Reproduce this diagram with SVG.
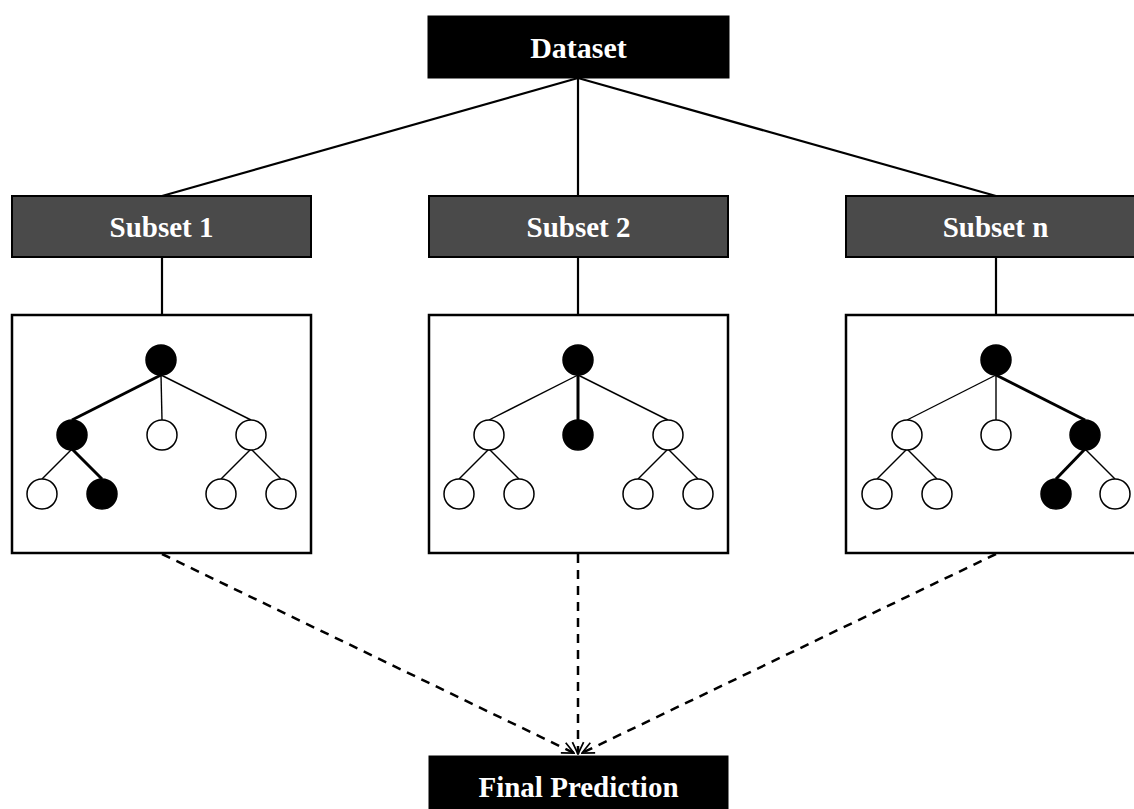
<svg xmlns="http://www.w3.org/2000/svg" width="1134" height="809" viewBox="0 0 1134 809">
<defs>
<style>
.lbl{font-family:"Liberation Serif","Times New Roman",serif;font-weight:bold;fill:#fff;text-anchor:middle}
.dark{fill:#000;stroke:#000;stroke-width:1}
.sub{fill:#4a4a4a;stroke:#000;stroke-width:2}
.tbox{fill:#fff;stroke:#000;stroke-width:2.5}
.con{stroke:#000;stroke-width:2.2;fill:none}
.dash{stroke:#000;stroke-width:2.5;fill:none;stroke-dasharray:9 7}
.e{stroke:#000;stroke-width:1.4;fill:none}
.eb{stroke:#000;stroke-width:3;fill:none}
.o{fill:#fff;stroke:#000;stroke-width:1.5}
.f{fill:#000;stroke:#000;stroke-width:1.5}
</style>
<marker id="arr" viewBox="0 0 10 10" refX="9" refY="5" markerWidth="7" markerHeight="7" orient="auto" markerUnits="userSpaceOnUse">
<path d="M0,0 L10,5 L0,10" fill="none" stroke="#000" stroke-width="2"/>
</marker>
<marker id="arr2" viewBox="0 0 20 20" refX="18" refY="10" markerWidth="14" markerHeight="14" orient="auto" markerUnits="userSpaceOnUse">
<path d="M1,2 L18,10 L1,18" fill="none" stroke="#000" stroke-width="2.5"/>
</marker>
</defs>
<rect width="1134" height="809" fill="#fff"/>

<g id="connectors">
<line class="con" x1="578" y1="78" x2="162" y2="196"/>
<line class="con" x1="578" y1="78" x2="578" y2="196"/>
<line class="con" x1="578" y1="78" x2="996" y2="196"/>
<line class="con" x1="162" y1="257" x2="162" y2="315"/>
<line class="con" x1="578" y1="257" x2="578" y2="315"/>
<line class="con" x1="996" y1="257" x2="996" y2="315"/>
<line class="dash" x1="162" y1="554" x2="574" y2="753" marker-end="url(#arr2)"/>
<line class="dash" x1="578" y1="554" x2="578" y2="754" marker-end="url(#arr2)"/>
<line class="dash" x1="996" y1="554" x2="582" y2="753" marker-end="url(#arr2)"/>
</g>

<g id="dataset">
<rect class="dark" x="428" y="16" width="301" height="62"/>
<text class="lbl" x="578.5" y="58" font-size="30">Dataset</text>
</g>

<g id="subset1">
<rect class="sub" x="12" y="196" width="299" height="61"/>
<text class="lbl" x="161.5" y="237" font-size="29">Subset 1</text>
</g>
<g id="subset2">
<rect class="sub" x="429" y="196" width="299" height="61"/>
<text class="lbl" x="578.5" y="237" font-size="29">Subset 2</text>
</g>
<g id="subsetn">
<rect class="sub" x="846" y="196" width="299" height="61"/>
<text class="lbl" x="995.5" y="237" font-size="29">Subset n</text>
</g>

<g id="tree1">
<rect class="tbox" x="12" y="315" width="299" height="238"/>
<line class="eb" x1="161" y1="375" x2="72" y2="420"/>
<line class="e" x1="161" y1="375" x2="162" y2="420"/>
<line class="e" x1="161" y1="375" x2="251" y2="420"/>
<line class="e" x1="72" y1="449" x2="42" y2="479"/>
<line class="eb" x1="72" y1="449" x2="102" y2="479"/>
<line class="e" x1="251" y1="449" x2="221" y2="479"/>
<line class="e" x1="251" y1="449" x2="281" y2="479"/>
<circle class="f" cx="161" cy="360" r="15"/>
<circle class="f" cx="72" cy="435" r="15"/>
<circle class="o" cx="162" cy="435" r="15"/>
<circle class="o" cx="251" cy="435" r="15"/>
<circle class="o" cx="42" cy="494" r="15"/>
<circle class="f" cx="102" cy="494" r="15"/>
<circle class="o" cx="221" cy="494" r="15"/>
<circle class="o" cx="281" cy="494" r="15"/>
</g>

<g id="tree2">
<rect class="tbox" x="429" y="315" width="299" height="238"/>
<line class="e" x1="578" y1="375" x2="489" y2="420"/>
<line class="eb" x1="578" y1="375" x2="578" y2="420"/>
<line class="e" x1="578" y1="375" x2="668" y2="420"/>
<line class="e" x1="489" y1="449" x2="459" y2="479"/>
<line class="e" x1="489" y1="449" x2="519" y2="479"/>
<line class="e" x1="668" y1="449" x2="638" y2="479"/>
<line class="e" x1="668" y1="449" x2="698" y2="479"/>
<circle class="f" cx="578" cy="360" r="15"/>
<circle class="o" cx="489" cy="435" r="15"/>
<circle class="f" cx="578" cy="435" r="15"/>
<circle class="o" cx="668" cy="435" r="15"/>
<circle class="o" cx="459" cy="494" r="15"/>
<circle class="o" cx="519" cy="494" r="15"/>
<circle class="o" cx="638" cy="494" r="15"/>
<circle class="o" cx="698" cy="494" r="15"/>
</g>

<g id="tree3">
<rect class="tbox" x="846" y="315" width="299" height="238"/>
<line class="e" x1="996" y1="375" x2="907" y2="420"/>
<line class="e" x1="996" y1="375" x2="996" y2="420"/>
<line class="eb" x1="996" y1="375" x2="1085" y2="420"/>
<line class="e" x1="907" y1="449" x2="877" y2="479"/>
<line class="e" x1="907" y1="449" x2="937" y2="479"/>
<line class="eb" x1="1085" y1="449" x2="1056" y2="479"/>
<line class="e" x1="1085" y1="449" x2="1115" y2="479"/>
<circle class="f" cx="996" cy="360" r="15"/>
<circle class="o" cx="907" cy="435" r="15"/>
<circle class="o" cx="996" cy="435" r="15"/>
<circle class="f" cx="1085" cy="435" r="15"/>
<circle class="o" cx="877" cy="494" r="15"/>
<circle class="o" cx="937" cy="494" r="15"/>
<circle class="f" cx="1056" cy="494" r="15"/>
<circle class="o" cx="1115" cy="494" r="15"/>
</g>

<g id="final">
<rect class="dark" x="429" y="756" width="299" height="60"/>
<text class="lbl" x="578.5" y="797" font-size="29">Final Prediction</text>
</g>
</svg>
